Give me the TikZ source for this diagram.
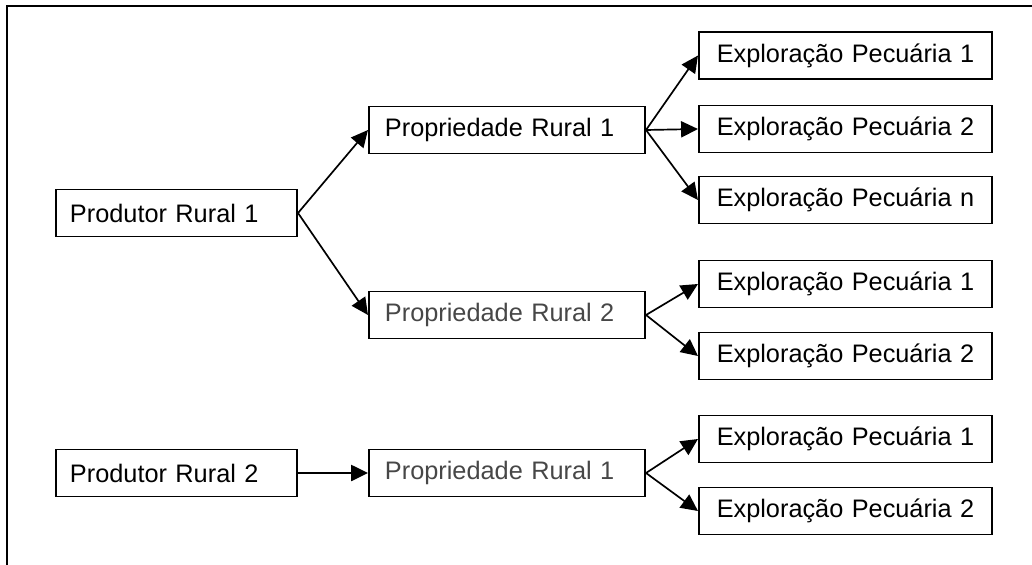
\documentclass[tikz,border=0pt]{standalone}
\usepackage{fontspec}
\setmainfont{Liberation Sans}
\usepackage{tikz}
\usetikzlibrary{arrows.meta}

\begin{document}
\begin{tikzpicture}[
    x=0.025cm,y=-0.025cm,
    every node/.style={draw,line width=1.4pt,rectangle,minimum height=1.175cm,
      inner ysep=0pt,font=\fontsize{18}{21}\selectfont},
    prodbox/.style={text width=5.325cm,inner xsep=0.35cm,align=left},
    propbox/.style={text width=6.1cm,inner xsep=0.4cm,align=left},
    explbox/.style={text width=6.525cm,inner xsep=0.4cm,align=center},
    faded/.style={text=black!72},
    link/.style={line width=1.2pt,-{Triangle[length=12pt,width=11.5pt]}}
    ]
    \useasboundingbox (0,0) rectangle (1032,565);
    % frame: only top and left edges show
    \draw[line width=1.5pt] (1032,6) -- (7,6) -- (7,565);
    % 1) first producer
    \node[prodbox] (p1) at (176.5,213) {Produtor Rural 1};
    \node[propbox] (q1) at (507,130) {Propriedade Rural 1};
    \node[propbox,faded] (q2) at (507,315) {Propriedade Rural 2};
    \node[explbox] (e1) at (845.5,55.5) {Exploração Pecuária 1};
    \node[explbox] (e2) at (845.5,129) {Exploração Pecuária 2};
    \node[explbox] (en) at (845.5,200) {Exploração Pecuária n};
    \node[explbox] (f1) at (845.5,284) {Exploração Pecuária 1};
    \node[explbox] (f2) at (845.5,356) {Exploração Pecuária 2};
    % 2) second producer
    \node[prodbox] (p2) at (176.5,473) {Produtor Rural 2};
    \node[propbox,faded] (r1) at (507,473) {Propriedade Rural 1};
    \node[explbox] (g1) at (845.5,439) {Exploração Pecuária 1};
    \node[explbox] (g2) at (845.5,511) {Exploração Pecuária 2};
    % arrows
    \draw[link] (p1.east) -- (q1.west);
    \draw[link] (p1.east) -- (q2.west);
    \foreach \t in {e1,e2,en} \draw[link] (q1.east) -- (\t.west);
    \foreach \t in {f1,f2} \draw[link] (q2.east) -- (\t.west);
    \draw[link] (p2.east) -- (r1.west);
    \foreach \t in {g1,g2} \draw[link] (r1.east) -- (\t.west);
\end{tikzpicture}
\end{document}
